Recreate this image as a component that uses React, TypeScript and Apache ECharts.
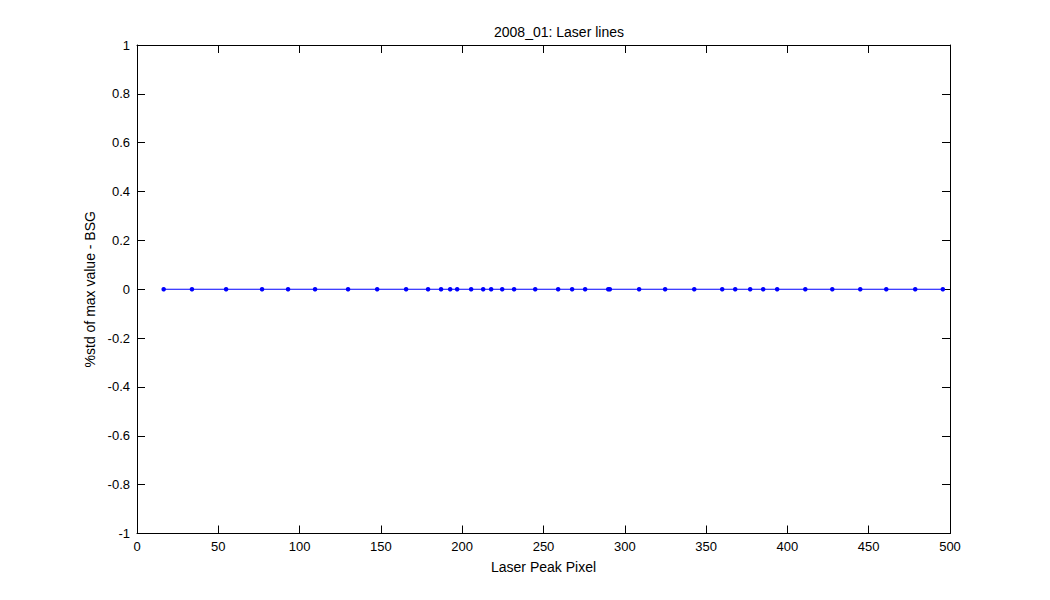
import React, { useEffect, useRef } from "react";
import * as echarts from "echarts";

const titleText = "2008_01: Laser lines";
const xAxisName = "Laser Peak Pixel";
const yAxisName = "%std of max value - BSG";

const peakPixels = [
  16.4, 33.8, 54.8, 76.9, 92.9, 109.5, 129.8, 147.7, 165.5, 179.0, 187.0,
  192.6, 196.9, 205.5, 212.9, 217.8, 224.6, 231.9, 244.9, 259.0, 267.6, 275.6,
  289.8, 290.8, 308.8, 324.8, 342.7, 359.9, 367.9, 377.1, 385.1, 393.7, 411.0,
  427.6, 444.8, 460.8, 478.6, 495.6,
];
const stdValues = [
  0, 0, 0, 0, 0, 0, 0, 0, 0, 0, 0, 0, 0, 0, 0, 0, 0, 0, 0, 0, 0, 0, 0, 0, 0,
  0, 0, 0, 0, 0, 0, 0, 0, 0, 0, 0, 0, 0,
];

const FONT = "Liberation Sans, Arial, Helvetica, sans-serif";

export default function App() {
  const ref = useRef<HTMLDivElement>(null);
  useEffect(() => {
    if (!ref.current) return;
    const chart = echarts.init(ref.current, undefined, { renderer: "svg" });
    const axisLine = { show: true, onZero: false, lineStyle: { color: "#000", width: 1 } };
    const tick = { show: true, inside: true, length: 8, lineStyle: { color: "#000" } };
    const label = { color: "#000", fontSize: 13, fontFamily: FONT };
    chart.setOption({
      animation: false,
      backgroundColor: "#fff",
      title: {
        text: titleText,
        left: 554,
        top: 20,
        textAlign: "center",
        textStyle: { color: "#000", fontSize: 14, fontWeight: "normal", fontFamily: FONT },
      },
      grid: { left: 137, right: 100, top: 45, bottom: 66.5, containLabel: false },
      xAxis: [
        {
          type: "value",
          min: 0,
          max: 500,
          interval: 50,
          position: "bottom",
          name: xAxisName,
          nameLocation: "middle",
          nameGap: 26,
          nameTextStyle: { color: "#000", fontSize: 14, fontFamily: FONT },
          axisLine,
          axisTick: tick,
          axisLabel: { ...label, margin: 6 },
          splitLine: { show: false },
        },
        {
          type: "value",
          min: 0,
          max: 500,
          interval: 50,
          position: "top",
          axisLine,
          axisTick: tick,
          axisLabel: { show: false },
          splitLine: { show: false },
        },
      ],
      yAxis: [
        {
          type: "value",
          min: -1,
          max: 1,
          interval: 0.2,
          position: "left",
          name: yAxisName,
          nameLocation: "middle",
          nameGap: 38,
          nameTextStyle: { color: "#000", fontSize: 14, fontFamily: FONT },
          axisLine,
          axisTick: tick,
          axisLabel: { ...label, margin: 7 },
          splitLine: { show: false },
        },
        {
          type: "value",
          min: -1,
          max: 1,
          interval: 0.2,
          position: "right",
          axisLine,
          axisTick: tick,
          axisLabel: { show: false },
          splitLine: { show: false },
        },
      ],
      series: [
        {
          type: "line",
          data: peakPixels.map((x, i) => [x, stdValues[i]]),
          symbol: "circle",
          symbolSize: 4.5,
          showSymbol: true,
          lineStyle: { color: "#0000ff", width: 1 },
          itemStyle: { color: "#0000ff" },
        },
      ],
    });
    return () => chart.dispose();
  }, []);
  return (
    <div
      ref={ref}
      style={{ position: "fixed", left: 0, top: 0, width: 1050, height: 600, background: "#fff" }}
    />
  );
}
